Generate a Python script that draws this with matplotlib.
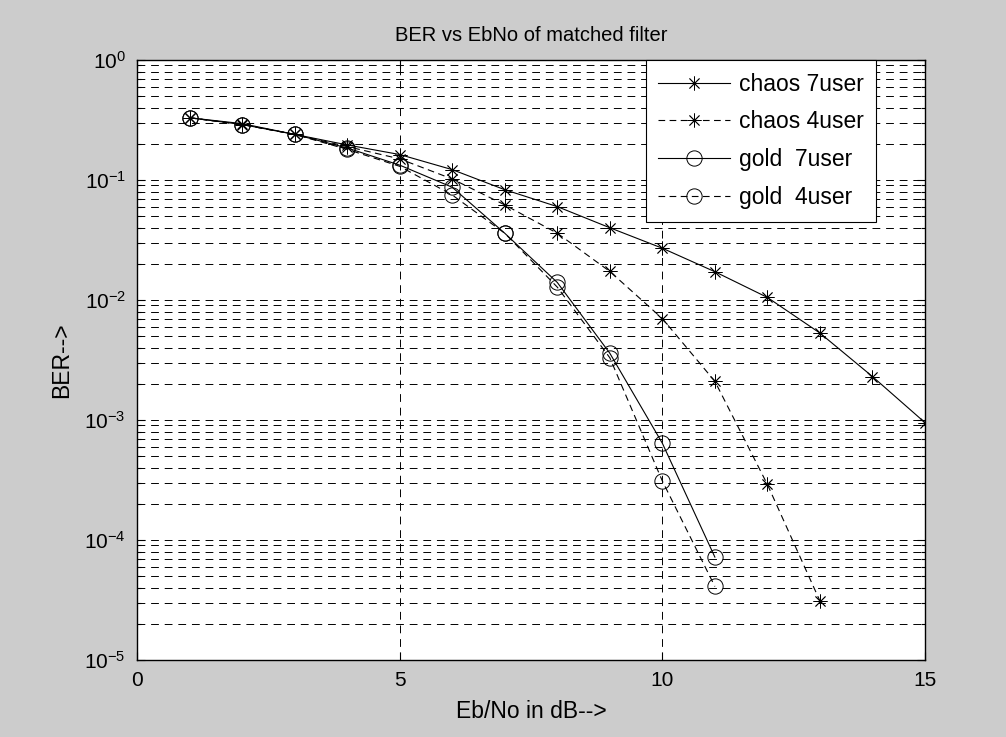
import matplotlib
matplotlib.use('Agg')
import matplotlib.pyplot as plt
from matplotlib.ticker import LogLocator, NullLocator, FixedLocator

plt.rcParams['font.family'] = ['Liberation Sans', 'DejaVu Sans']
plt.rcParams['mathtext.fontset'] = 'custom'
plt.rcParams['mathtext.rm'] = 'Liberation Sans'
plt.rcParams['mathtext.it'] = 'Liberation Sans'

# values
ebno_chaos7 = [1, 2, 3, 4, 5, 6, 7, 8, 9, 10, 11, 12, 13, 14, 15]
ber_chaos7 = [0.33, 0.295, 0.24, 0.196, 0.163, 0.122, 0.083, 0.060, 0.040,
              0.027, 0.0172, 0.0105, 0.0053, 0.0023, 0.00095]

ebno_chaos4 = [1, 2, 3, 4, 5, 6, 7, 8, 9, 10, 11, 12, 13]
ber_chaos4 = [0.33, 0.29, 0.24, 0.19, 0.15, 0.102, 0.062, 0.036, 0.0173,
              0.0070, 0.0021, 0.00029, 0.000031]

ebno_gold7 = [1, 2, 3, 4, 5, 6, 7, 8, 9, 10, 11]
ber_gold7 = [0.33, 0.29, 0.24, 0.185, 0.133, 0.087, 0.036, 0.014, 0.0036,
             0.00064, 0.000072]

ebno_gold4 = [1, 2, 3, 4, 5, 6, 7, 8, 9, 10, 11]
ber_gold4 = [0.33, 0.29, 0.24, 0.18, 0.13, 0.075, 0.036, 0.0128, 0.0033,
             0.00031, 0.000041]

fig = plt.figure(figsize=(10.06, 7.37), dpi=100, facecolor='#cccccc')
ax = fig.add_axes([0.1362, 0.1045, 0.7833, 0.8141])
ax.set_facecolor('white')

asterisk = (8, 2, 0)
dash = (0, (6, 4))
ax.semilogy(ebno_chaos7, ber_chaos7, color='black', lw=0.8, marker=asterisk,
            ms=10, mew=0.6, label='chaos 7user')
ax.semilogy(ebno_chaos4, ber_chaos4, color='black', lw=0.8, ls=dash,
            marker=asterisk, ms=10, mew=0.6, label='chaos 4user')
ax.semilogy(ebno_gold7, ber_gold7, color='black', lw=0.8, marker='o',
            ms=11, mfc='none', mew=0.7, label='gold  7user')
ax.semilogy(ebno_gold4, ber_gold4, color='black', lw=0.8, ls=dash,
            marker='o', ms=11, mfc='none', mew=0.7, label='gold  4user')

ax.set_xlim(0, 15)
ax.set_ylim(1e-5, 1)
ax.xaxis.set_major_locator(FixedLocator([0, 5, 10, 15]))
ax.xaxis.set_minor_locator(NullLocator())
ax.yaxis.set_major_locator(LogLocator(base=10, numticks=10))
ax.yaxis.set_minor_locator(LogLocator(base=10, subs=range(2, 10), numticks=20))

ax.grid(True, which='major', axis='x', color='black', lw=0.7, ls=(0, (8, 6)))
ax.grid(True, which='both', axis='y', color='black', lw=0.7, ls=(0, (8, 6)))

ax.tick_params(which='both', direction='in', top=True, right=True,
               labelsize=15, width=0.8)
ax.tick_params(which='major', length=6)
ax.tick_params(axis='x', which='major', pad=8)
ax.tick_params(axis='y', which='major', pad=8)
ax.tick_params(which='minor', length=3)
for s in ax.spines.values():
    s.set_linewidth(1.0)

ax.set_xlabel('Eb/No in dB-->', fontsize=16.5, labelpad=7)
ax.set_ylabel('BER-->', fontsize=16.5, labelpad=8)
ax.set_title('BER vs EbNo of matched filter', fontsize=14.5, pad=14)

leg = ax.legend(loc='upper right', bbox_to_anchor=(0.938, 1.0),
                borderaxespad=0, fontsize=16.5, fancybox=False,
                edgecolor='black', framealpha=1, handlelength=3.1,
                handletextpad=0.4, labelspacing=0.65, borderpad=0.55)
leg.get_frame().set_linewidth(0.8)

fig.savefig('out.png', dpi=100, facecolor=fig.get_facecolor())
